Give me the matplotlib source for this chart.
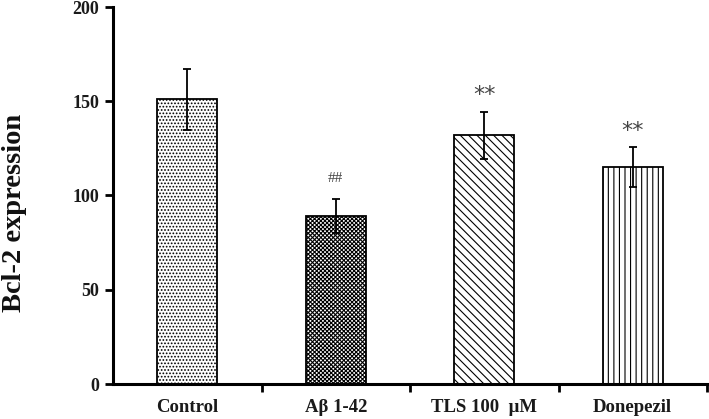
import matplotlib
matplotlib.use('Agg')
import matplotlib.pyplot as plt
import numpy as np

categories = ['Control', 'Aβ 1-42', 'TLS 100  μM', 'Donepezil']
means = [151, 89, 132, 115]
errors = [16, 9, 12.5, 10.5]
annotations = ['', '##', '**', '**']
hatches = ['.....', 'xxxxxxxx', '\\\\\\\\', '|||']
yticks = [0, 50, 100, 150, 200]

plt.rcParams['hatch.linewidth'] = 0.8
plt.rcParams['hatch.color'] = 'black'

fig = plt.figure(figsize=(7.09, 4.19), dpi=100)
ax = fig.add_axes([113/709, 35/419, 594/709, 377/419])
x = np.arange(len(categories)) + 0.5
for xi, m, h in zip(x, means, hatches):
    ax.bar(xi, m, width=0.404, color='white', edgecolor='black', hatch=h, linewidth=1.3, zorder=2)
ax.errorbar(x, means, yerr=errors, fmt='none', ecolor='black', elinewidth=1.3,
            capsize=2.7, capthick=1.3, zorder=3)

for xi, m, e, a in zip(x, means, errors, annotations):
    if a:
        if a.startswith('#'):
            ax.annotate(a, (xi, m + e), xytext=(0, 15), textcoords='offset points',
                        ha='center', va='center', fontsize=11, family='Liberation Serif',
                        color='#444444')
        else:
            ax.annotate(a, (xi, m + e), xytext=(0, 12), textcoords='offset points',
                        ha='center', va='center', fontsize=16, family='DejaVu Sans',
                        color='#444444')

ax.set_xlim(0, 4)
ax.set_ylim(0, 200)
for s in ['top', 'right']:
    ax.spines[s].set_visible(False)
for s in ['left', 'bottom']:
    ax.spines[s].set_linewidth(2.2)

ax.set_yticks(yticks)
ax.set_yticklabels([str(t) for t in yticks], fontsize=13, fontweight='bold',
                   family='Liberation Serif', color='#1a1a1a')
ax.tick_params(axis='y', length=6, width=2, pad=4)

ax.set_xticks([1, 2, 3, 4])
ax.set_xticklabels([])
ax.tick_params(axis='x', which='major', length=6, width=2)
ax.set_xticks(x, minor=True)
ax.set_xticklabels(categories, minor=True, fontsize=13.5, fontweight='bold',
                   family='Liberation Serif', color='#1a1a1a')
ax.tick_params(axis='x', which='minor', length=0, pad=10.5)

ax.set_ylabel('Bcl-2 expression', fontsize=20.5, fontweight='bold',
              family='Liberation Serif', color='#111111')
ax.yaxis.set_label_coords(-0.145, 0.4536)

fig.savefig('out.png', dpi=100)
